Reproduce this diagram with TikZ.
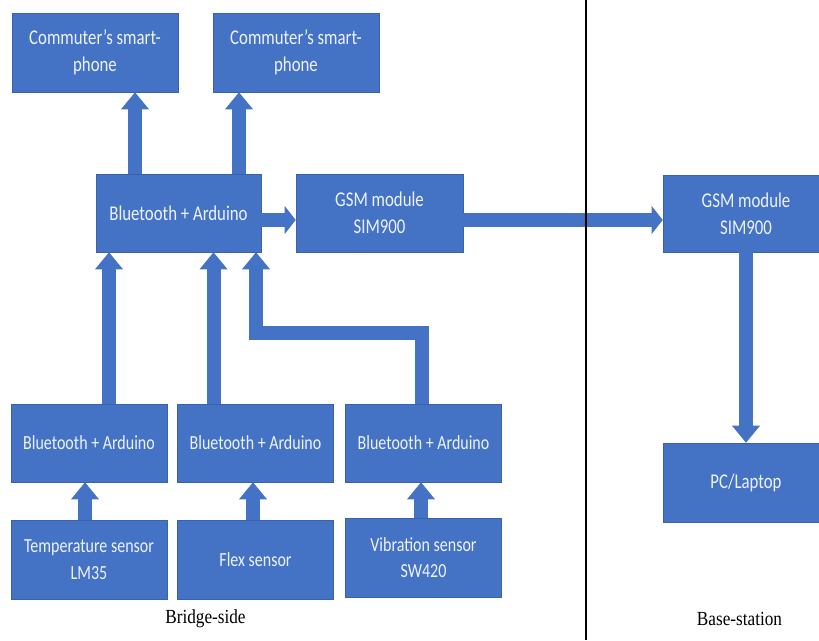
\documentclass[tikz,border=0pt]{standalone}
\usepackage{fontspec}
\setmainfont{Liberation Serif}
\newfontfamily\boxfont{Carlito}[FakeStretch=0.8]
\newfontfamily\sidefont{Liberation Serif}[FakeStretch=0.86]
\usetikzlibrary{arrows.meta,positioning,calc}

\definecolor{boxblue}{HTML}{4472C4}
\definecolor{edgeblue}{HTML}{3A62AC}
\definecolor{txtwhite}{HTML}{EEF3FB}

\tikzset{
  unit/.style={rectangle, fill=boxblue, draw=edgeblue, line width=0.6pt,
    minimum width=166pt, minimum height=79pt, inner sep=0pt, align=center,
    text=txtwhite, font=\boxfont\fontsize{21}{27}\selectfont},
  lowunit/.style={unit, minimum width=156pt, font=\boxfont\fontsize{20}{26.5}\selectfont},
  flow/.style={draw=boxblue, line width=14pt,
    -{Triangle[width=28pt,length=17pt,line width=0pt]}},
  flowh/.style={flow, -{Triangle[width=28pt,length=11pt,line width=0pt]}},
  side/.style={font=\sidefont\fontsize{20}{24}\selectfont}
}

\begin{document}
\begin{tikzpicture}[x=1pt,y=-1pt]
\useasboundingbox (0,0) rectangle (819,640);
\clip (0,0) rectangle (819,640);

% phones
\node[unit] (phoneA) at (95,52.5) {Commuter’s smart-\\phone};
\node[unit] (phoneB) at (296,52.5) {Commuter’s smart-\\phone};

% hub and gsm modules
\node[unit, minimum width=165pt, minimum height=78pt] (hub) at (178.5,213) {Bluetooth + Arduino};
\node[unit, minimum width=167pt, minimum height=78pt] (gsmA) at (379.5,213) {GSM module\\SIM900};
\node[unit, minimum height=77pt] (gsmB) at (746,213.5) {GSM module\\SIM900};
\node[unit] (pc) at (746,482.5) {PC/Laptop};

% sensor side
\node[lowunit, minimum height=78pt] (btA) at (89,443) {Bluetooth + Arduino};
\node[lowunit, minimum height=78pt] (btB) at (255.5,443) {Bluetooth + Arduino};
\node[lowunit, minimum height=78pt] (btC) at (423.5,443) {Bluetooth + Arduino};
\node[lowunit] (tempS) at (89,559.5) {Temperature sensor\\LM35};
\node[lowunit] (flexS) at (255.5,559.5) {Flex sensor};
\node[lowunit] (vibS) at (423.5,557.5) {Vibration sensor\\SW420};

% hub to phones
\draw[flow] ([xshift=-43.5pt]hub.north) -- ([xshift=-43.5pt]hub.north |- phoneA.south);
\draw[flow] ([xshift=60.5pt]hub.north) -- ([xshift=60.5pt]hub.north |- phoneB.south);

% gsm link
\draw[flowh] ([yshift=-7pt]hub.east) -- ([yshift=-7pt]hub.east -| gsmA.west);
\draw[flowh] ([yshift=-7pt]gsmA.east) -- ([yshift=-7pt]gsmA.east -| gsmB.west);
\draw[flow] (gsmB.south) -- (pc.north);

% nodes to hub
\draw[flow] ([xshift=20pt]btA.north) -- ([xshift=20pt]btA.north |- hub.south);
\draw[flow] ([xshift=-42pt]btB.north) -- ([xshift=-42pt]btB.north |- hub.south);
\coordinate (bend) at (256,333);
\draw[flow] ([xshift=-1.5pt]btC.north) |- (bend) -- (bend |- hub.south);

% sensors to nodes
\draw[flow] ([xshift=-4pt]tempS.north) -- ([xshift=-4pt]btA.south);
\draw[flow] ([xshift=-2.5pt]flexS.north) -- ([xshift=-2.5pt]btB.south);
\draw[flow] ([xshift=-2.5pt]vibS.north) -- ([xshift=-2.5pt]btC.south);

% divider
\draw[line width=2.5pt] (586,0) -- (586,640);
\node[side] (bridge) at (205.5,619) {Bridge-side};
\node[side] (base) at (739.5,619) {Base-station};
\end{tikzpicture}
\end{document}
